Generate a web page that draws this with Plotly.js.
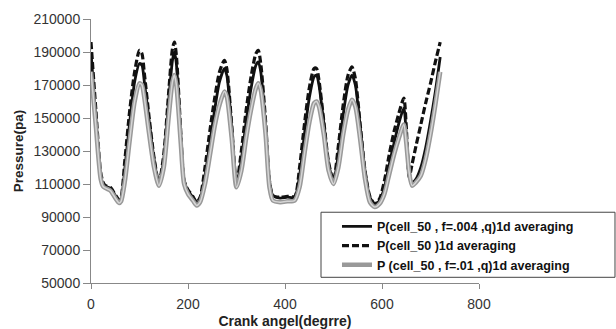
<!DOCTYPE html>
<html>
<head>
<meta charset="utf-8">
<script src="https://cdn.plot.ly/plotly-3.0.1.min.js"></script>
<style>
  html, body { margin: 0; padding: 0; background: #fff; }
  #chart { width: 616px; height: 329px; }
</style>
</head>
<body>
<div id="chart"></div>
<script>
// Crank angle samples (degrees), shared by the three pressure series
const crankAngle = [0, 10, 20, 25, 30, 40, 50, 58, 62, 70, 80, 90, 100, 105, 110, 120, 130, 140,
  150, 160, 168, 172, 176, 185, 192, 200, 210, 218, 225, 235, 245, 255, 265, 275, 280, 290,
  300, 310, 320, 330, 340, 345, 350, 360, 368, 375, 390, 405, 420, 430, 440, 450, 460, 465,
  470, 480, 490, 500, 510, 520, 530, 538, 545, 555, 565, 575, 585, 595, 605, 615, 625, 635,
  645, 650, 656, 662, 670, 680, 690, 700, 710, 720];

// P(cell_50 , f=.004 ,q) 1d averaging
const pF004 = [190000, 150000, 115000, 110000, 108500, 107500, 103000, 100000, 101000, 120000,
  148000, 172000, 183000, 182000, 172000, 148000, 125000, 110000,
  125000, 160000, 185000, 190000, 183000, 140000, 112000, 106000, 102000, 98500, 101000, 115000,
  135000, 155000, 172000, 180000, 176000, 145000,
  110000, 125000, 148000, 168000, 182000, 184000, 178000, 145000, 112000, 103000, 101500, 102000,
  102000, 115000, 140000, 162000, 175000, 176000,
  170000, 147000, 122000, 112000, 128000, 152000, 170000, 176000, 170000, 145000, 118000, 102000,
  98000, 100000, 108000, 122000, 135000, 147000,
  156000, 140000, 118000, 111000, 113000, 120000, 132000, 148000, 166000, 187000];

// P(cell_50 ) 1d averaging
const pBase = [196000, 155000, 117000, 111000, 109000, 108000, 103500, 100500, 102000, 125000,
  155000, 178000, 191000, 189000, 177000, 150000, 126000, 110500,
  128000, 165000, 192000, 196000, 188000, 142000, 112000, 106500, 102500, 99000, 102000, 120000,
  142000, 162000, 178000, 185000, 180000, 146000,
  110000, 130000, 155000, 175000, 189000, 191000, 183000, 148000, 112000, 103000, 102000, 102500,
  102500, 120000, 146000, 168000, 180000, 180000,
  173000, 148000, 123000, 112000, 133000, 158000, 176000, 181000, 174000, 146000, 118000, 102500,
  98000, 101000, 112000, 128000, 142000, 153000,
  162000, 145000, 114000, 122000, 133000, 146000, 159000, 171000, 184000, 196000];

// P (cell_50 , f=.01 ,q) 1d averaging
const pF01 = [178000, 145000, 113000, 108500, 107500, 106000, 101500, 98500, 99500, 112000,
  137000, 160000, 171000, 170000, 162000, 140000, 120000, 109000,
  120000, 150000, 172000, 176000, 170000, 135000, 110000, 104000, 100000, 97000, 99000, 110000,
  127000, 145000, 158000, 166000, 163000, 138000,
  108000, 118000, 138000, 155000, 168000, 171000, 167000, 140000, 108000, 100000, 99000, 99500,
  100000, 108000, 128000, 147000, 159000, 160000,
  157000, 140000, 118000, 110000, 120000, 140000, 155000, 161000, 157000, 137000, 113000, 99000,
  96000, 98000, 104000, 116000, 128000, 138000,
  146000, 135000, 117000, 109000, 111000, 115000, 125000, 140000, 158000, 178000];

const yTicks = [50000, 70000, 90000, 110000, 130000, 150000, 170000, 190000, 210000];
const xTicks = [0, 200, 400, 600, 800];

const font = 'Liberation Sans, Arial, sans-serif';

const traces = [
  {
    x: crankAngle, y: pF004, type: 'scatter', mode: 'lines',
    name: 'P(cell_50 , f=.004 ,q)1d averaging',
    line: { color: '#111', width: 2.8, shape: 'spline', smoothing: 0.7 }
  },
  {
    x: crankAngle, y: pBase, type: 'scatter', mode: 'lines',
    name: 'P(cell_50 )1d averaging',
    line: { color: '#111', width: 3.2, dash: '7px,3px', shape: 'spline', smoothing: 0.7 }
  },
  {
    x: crankAngle, y: pF01, type: 'scatter', mode: 'lines',
    name: 'P (cell_50 , f=.01 ,q)1d averaging',
    line: { color: '#999', width: 4.5, shape: 'spline', smoothing: 0.7 }
  },
  {
    // light core of the double grey line
    x: crankAngle, y: pF01, type: 'scatter', mode: 'lines',
    showlegend: false, hoverinfo: 'skip',
    line: { color: '#d6d6d6', width: 1.5, shape: 'spline', smoothing: 0.7 }
  }
];

const layout = {
  width: 616, height: 329,
  margin: { l: 91, r: 137, t: 19, b: 46 },
  paper_bgcolor: '#fff', plot_bgcolor: '#fff',
  font: { family: font, size: 14, color: '#333' },
  showlegend: true,
  xaxis: {
    range: [0, 800], tickvals: xTicks, ticktext: xTicks.map(String),
    showgrid: false, zeroline: false, showline: true, linecolor: '#888', linewidth: 1,
    ticks: 'outside', ticklen: 5, tickcolor: '#888', ticklabelstandoff: 3,
    tickfont: { family: font, size: 14, color: '#333' },
    title: { text: '<b>Crank angel(degrre)</b>', font: { family: font, size: 14, color: '#222' }, standoff: 10 }
  },
  yaxis: {
    range: [50000, 210000], tickvals: yTicks, ticktext: yTicks.map(String),
    showgrid: false, zeroline: false, showline: true, linecolor: '#888', linewidth: 1,
    ticks: 'outside', ticklen: 7, tickcolor: '#888',
    tickfont: { family: font, size: 14, color: '#333' },
    title: { text: '<b>Pressure(pa)</b>', font: { family: font, size: 13.5, color: '#222' }, standoff: 6 }
  },
  legend: {
    x: 0.634, xanchor: 'left', y: 0.27, yanchor: 'top',
    bgcolor: 'rgba(0,0,0,0)', borderwidth: 0,
    font: { family: font, size: 12.5, color: '#111', weight: 'bold' },
    tracegroupgap: 0
  },
  shapes: [
    {
      // legend frame
      type: 'rect', xref: 'paper', yref: 'paper',
      x0: 0.5928, x1: 1.3505, y0: 0.0216, y1: 0.268,
      line: { color: '#444', width: 1 }, fillcolor: '#fff', layer: 'above'
    }
  ]
};

Plotly.newPlot('chart', traces, layout, { displayModeBar: false, staticPlot: true });
</script>
</body>
</html>
